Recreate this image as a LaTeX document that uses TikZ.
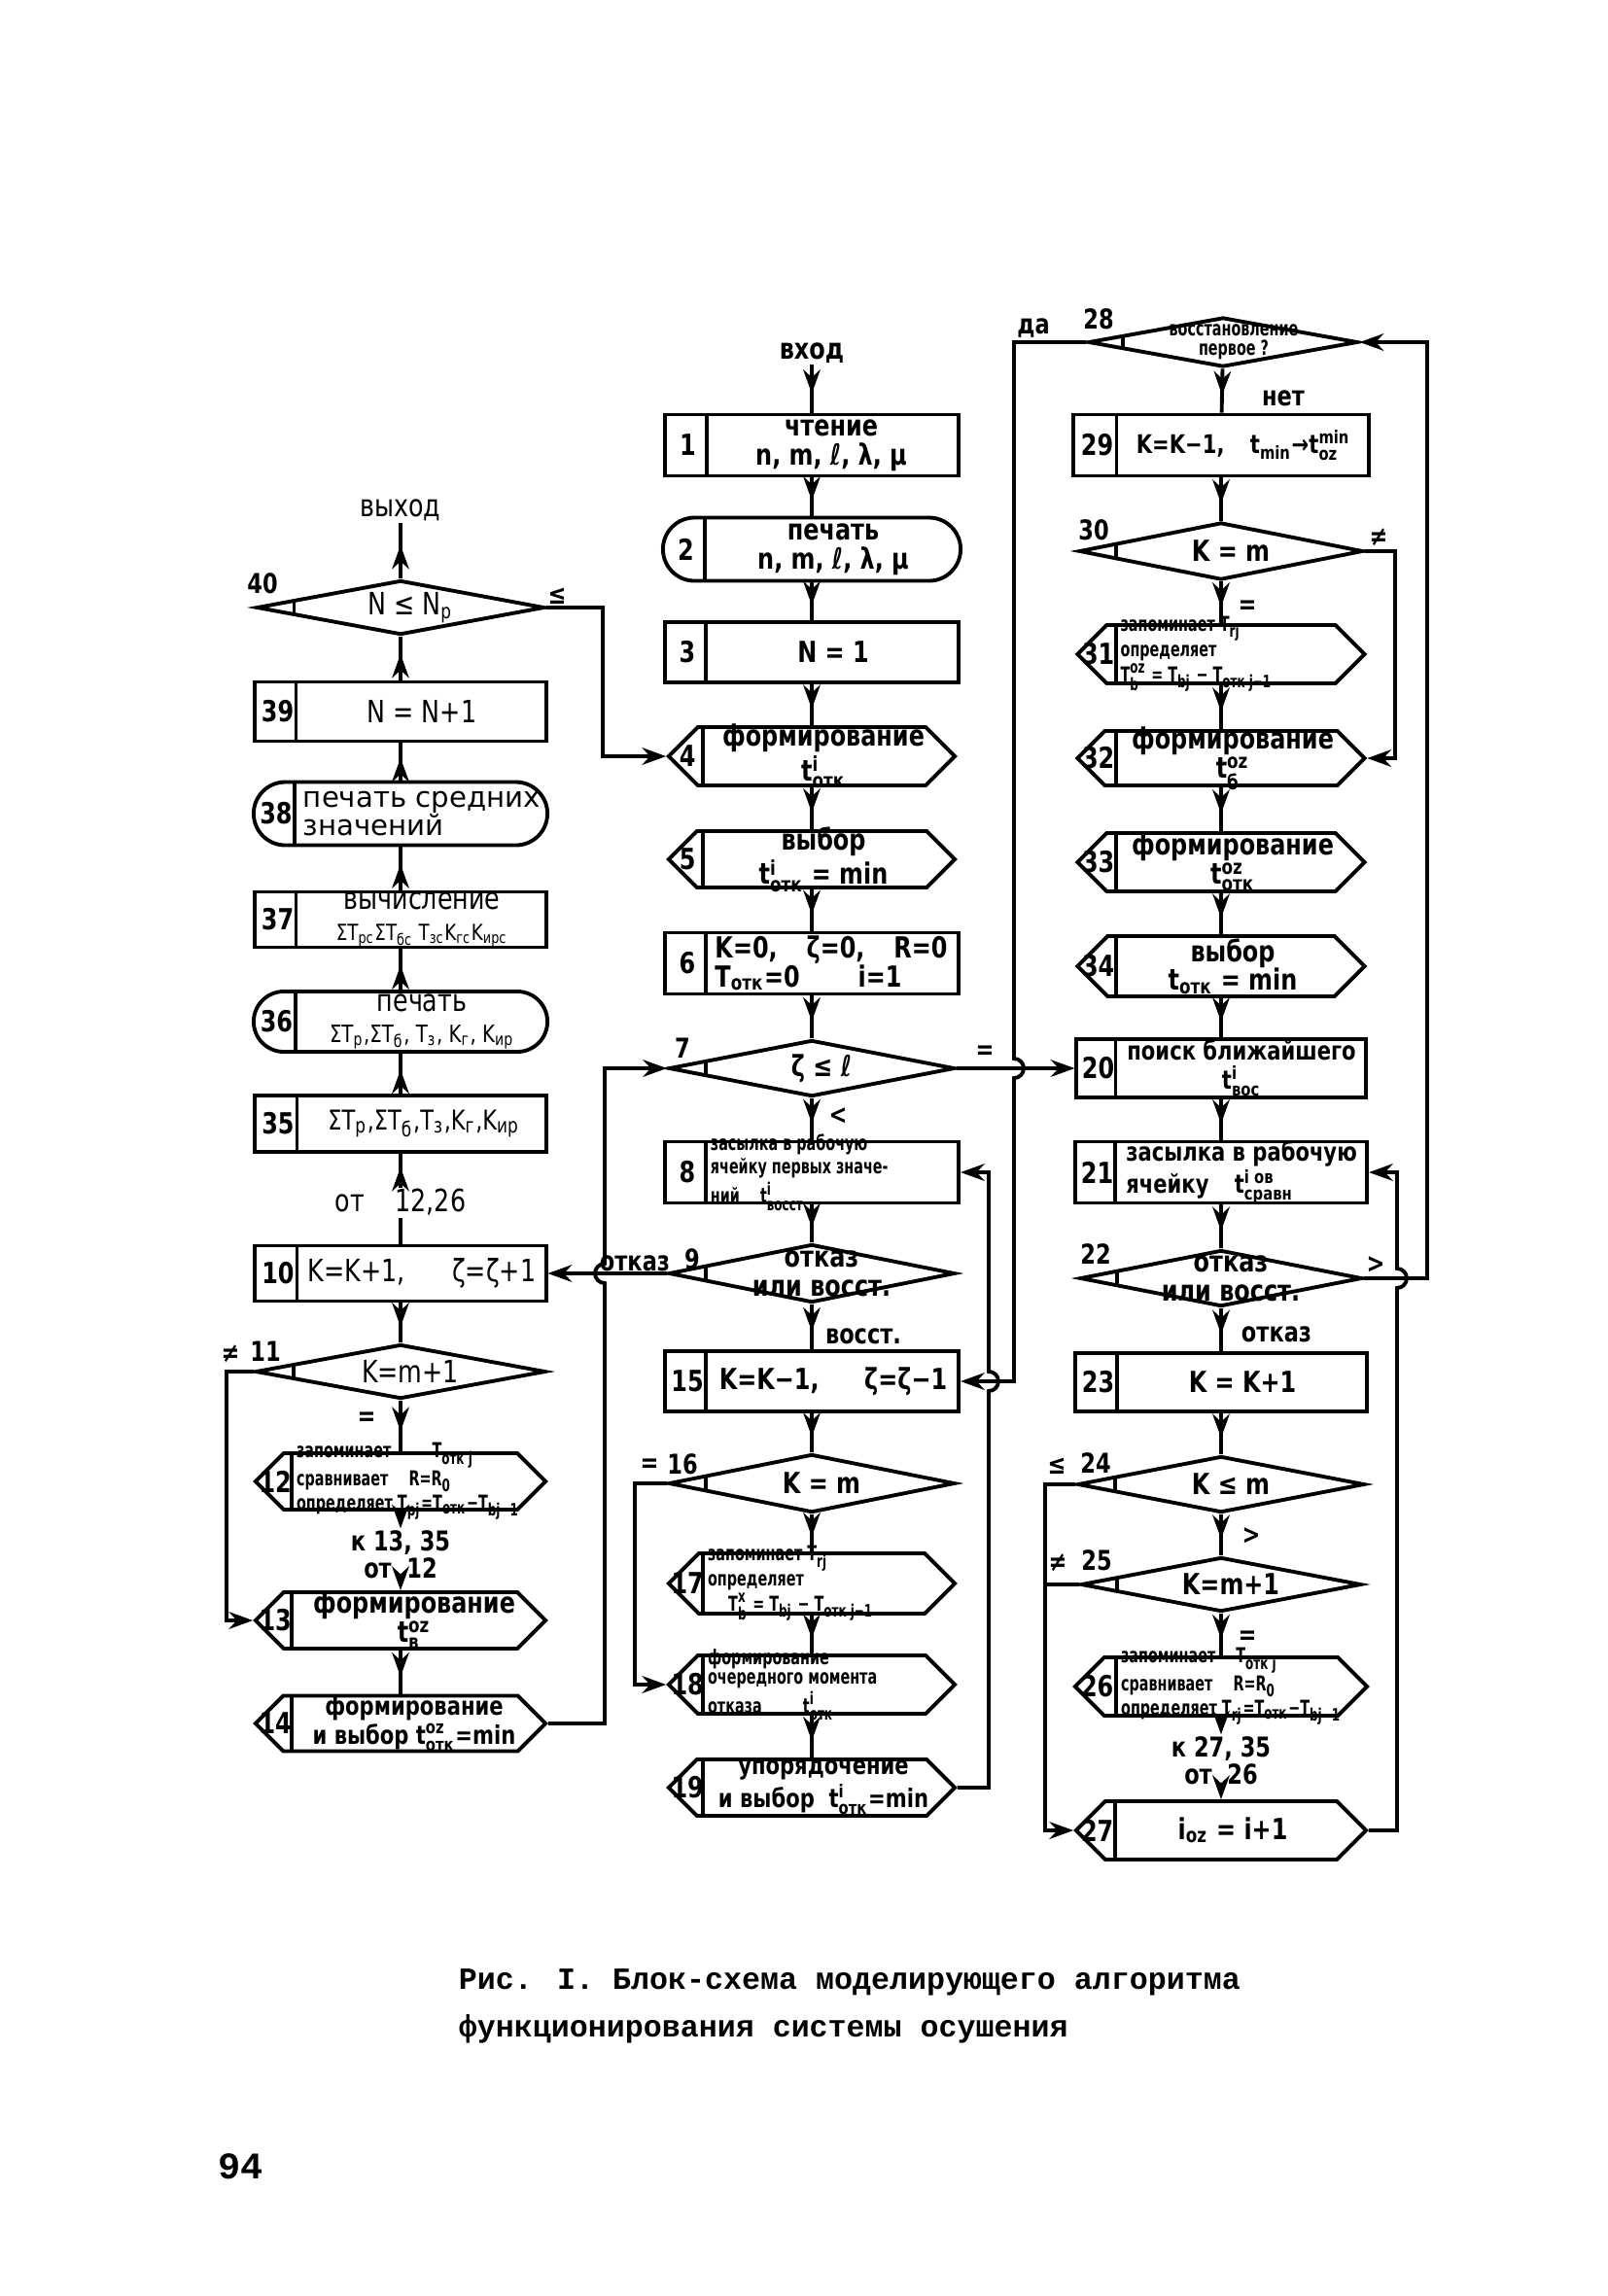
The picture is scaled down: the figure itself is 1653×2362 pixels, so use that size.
\documentclass[tikz,border=0pt]{standalone}
\usepackage{amsmath}
\usepackage{fontspec}
\setmainfont{DejaVu Sans}
\newfontfamily\narrowfont[FakeStretch=0.8]{DejaVu Sans}
\newfontfamily\condfont[FakeStretch=0.68]{DejaVu Sans}
\newfontfamily\capfont{Liberation Mono}
\usetikzlibrary{calc,shapes.geometric,shapes.misc,shapes.symbols,arrows.meta,decorations.markings}
\tikzset{
  proc/.style={draw, rectangle, inner sep=0pt, minimum width=3.02cm, minimum height=0.62cm},
  prep/.style={draw, signal, signal to=west and east, signal pointer angle=90, inner sep=0pt, minimum width=2.94cm, minimum height=0.6cm},
  cond/.style={draw, diamond, inner sep=0pt, minimum width=2.94cm, minimum height=0.58cm},
  disp/.style={draw, rounded rectangle, inner sep=0pt, minimum width=3.06cm, minimum height=0.65cm},
  card/.style={draw, chamfered rectangle, chamfered rectangle corners=north east, chamfered rectangle xsep=0.42cm, chamfered rectangle ysep=0.33cm, inner sep=0pt, minimum width=3.02cm, minimum height=0.63cm},
  txt/.style={font=\narrowfont\bfseries\fontsize{8.5}{8.5}\selectfont, align=center, inner sep=0pt},
  midtxt/.style={font=\narrowfont\bfseries\fontsize{7.5}{8.5}\selectfont, align=center, inner sep=0pt},
  smalltxt/.style={font=\condfont\bfseries\fontsize{6}{5.8}\selectfont, align=left, inner sep=0pt, anchor=west, xshift=0.03cm},
  ltxt/.style={font=\narrowfont\fontsize{9}{9}\selectfont, align=center, inner sep=0pt},
  numtxt/.style={font=\narrowfont\bfseries\fontsize{8.5}{9}\selectfont, inner sep=0pt},
  lbl/.style={font=\narrowfont\bfseries\fontsize{8}{8}\selectfont, inner sep=0pt},
  midarrow/.style={postaction={decorate}, decoration={markings, mark=at position 0.6 with {\arrow{Stealth[length=7pt,width=5pt]}}}},
  conn/.style={-{Stealth[length=7pt,width=5pt]}},
}
\def\sub#1#2{#1$_{\text{#2}}$}
\def\subsup#1#2#3{#1$^{\text{#2}}_{\text{#3}}$}
\def\cell[#1](#2)#3{\coordinate (#2d) at ([xshift=#1*1cm]#2.west);
  \draw (#2d |- #2.north) -- (#2d |- #2.south);
  \node[numtxt] (#2n) at ([xshift=#1*0.5cm+0.03cm]#2.west) {#3};}
\def\dcell(#1){\draw ($(#1.west)!0.27!(#1.north)$) -- ($(#1.west)!0.27!(#1.south)$);}

\begin{document}
\begin{tikzpicture}[x=0.01cm, y=-0.01cm, line width=1.1pt]
	\useasboundingbox (0,0) rectangle (1653,2362);
	\fill[white] (0,0) rectangle (1653,2362);

	%%%%% MIDDLE COLUMN %%%%%
	\node[txt] (in) at (835,363) {вход};

	\node[card] (b1) at (835,458) {};
	\cell[0.45](b1){1}
	\node[txt] (t1) at ([xshift=0.2cm]b1.center) {чтение\\n, m, ℓ, λ, μ};

	\node[disp] (b2) at (835,565) {};
	\cell[0.45](b2){2}
	\node[txt] (t2) at ([xshift=0.22cm]b2.center) {печать\\n, m, ℓ, λ, μ};

	\node[proc] (b3) at (835,671) {};
	\cell[0.44](b3){3}
	\node[txt] (t3) at ([xshift=0.22cm]b3.center) {N = 1};

	\node[prep] (b4) at (835,778) {};
	\cell[0.38](b4){4}
	\node[txt] (t4) at ([xshift=0.12cm]b4.center) {формирование\\\subsup{t}{i}{отк}};

	\node[prep, minimum height=0.58cm] (b5) at (835,884) {};
	\cell[0.38](b5){5}
	\node[txt] (t5) at ([xshift=0.12cm]b5.center) {выбор\\\subsup{t}{i}{отк} = min};

	\node[proc, minimum height=0.63cm] (b6) at (835,991) {};
	\cell[0.44](b6){6}
	\node[txt, align=left] (t6) at ([xshift=0.2cm]b6.center) {K=0,\quad ζ=0,\quad R=0\\\sub{T}{отк}=0\qquad i=1};

	\node[cond] (d7) at (835,1099) {};
	\dcell(d7)
	\node[txt] (t7) at ([xshift=0.1cm]d7.center) {ζ ≤ ℓ};
	\node[lbl] (n7) at (702,1078) {7};
	\node[lbl] (e7) at (1013,1083) {=};
	\node[lbl] (s7) at (862,1148) {<};

	\node[proc, minimum height=0.63cm] (b8) at (835,1206) {};
	\cell[0.44](b8){8}
	\node[smalltxt] (t8) at (b8d |- b8.center) {засылка в рабочую\\ячейку первых значе-\\ний\quad \subsup{t}{i}{восст}};

	\node[cond, minimum height=0.6cm] (d9) at (835,1310) {};
	\dcell(d9)
	\node[txt] (t9) at ([xshift=0.1cm]d9.center) {отказ\\или восст.};
	\node[lbl] (n9) at (712,1295) {9};
	\node[lbl] (w9) at (653,1300) {отказ};
	\node[lbl] (s9) at (888,1375) {восст.};

	\node[proc] (b15) at (835,1421) {};
	\cell[0.44](b15){15}
	\node[txt] (t15) at ([xshift=0.22cm]b15.center) {K=K−1,\quad\; ζ=ζ−1};

	\node[cond, minimum height=0.6cm] (d16) at (835,1526) {};
	\dcell(d16)
	\node[txt] (t16) at ([xshift=0.1cm]d16.center) {K = m};
	\node[lbl] (n16) at (702,1506) {16};
	\node[lbl] (w16) at (668,1508) {=};

	\node[prep, minimum height=0.62cm] (b17) at (835,1629) {};
	\cell[0.38](b17){17}
	\node[smalltxt] (t17) at (b17d |- b17.center) {запоминает \sub{T}{rj}\\определяет\\\quad\subsup{T}{x}{b} = \sub{T}{bj} − \sub{T}{отк j−1}};

	\node[prep] (b18) at (835,1733) {};
	\cell[0.38](b18){18}
	\node[smalltxt] (t18) at (b18d |- b18.center) {формирование\\очередного момента\\отказа\qquad \subsup{t}{i}{отк}};

	\node[prep, minimum height=0.58cm] (b19) at (835,1839) {};
	\cell[0.38](b19){19}
	\node[midtxt] (t19) at ([xshift=0.12cm]b19.center) {упорядочение\\и выбор\; \subsup{t}{i}{отк}=min};

	%%%%% LEFT COLUMN %%%%%
	\node[ltxt] (out) at (412,525) {выход};

	\node[cond, minimum width=2.96cm, minimum height=0.56cm] (d40) at (412,625) {};
	\dcell(d40)
	\node[ltxt] (t40) at ([xshift=0.1cm]d40.center) {N ≤ \sub{N}{р}};
	\node[lbl] (n40) at (270,600) {40};
	\node[lbl] (e40) at (573,613) {≤};

	\node[proc, minimum width=2.99cm, minimum height=0.61cm] (b39) at (412,732) {};
	\cell[0.44](b39){39}
	\node[ltxt] (t39) at ([xshift=0.22cm]b39.center) {N = N+1};

	\node[disp, minimum width=3.02cm] (b38) at (412,837) {};
	\cell[0.44](b38){38}
	\node[ltxt, align=left, anchor=west, font=\fontsize{8.3}{8.5}\selectfont] (t38) at (310,837) {печать средних\\значений};

	\node[proc, minimum width=2.99cm, minimum height=0.57cm] (b37) at (412,946) {};
	\cell[0.44](b37){37}
	\node[ltxt] (t37) at ([xshift=0.22cm]b37.center) {вычисление\\{\fontsize{6.5}{6.5}\selectfont Σ\sub{T}{рс}Σ\sub{T}{бс} \sub{T}{зс}\sub{K}{гс}\sub{K}{ирс}}};

	\node[disp, minimum width=3.02cm, minimum height=0.62cm] (b36) at (412,1051) {};
	\cell[0.45](b36){36}
	\node[ltxt] (t36) at ([xshift=0.22cm]b36.center) {печать\\{\fontsize{7}{7}\selectfont Σ\sub{T}{р},Σ\sub{T}{б}, \sub{T}{з}, \sub{K}{г}, \sub{K}{ир}}};

	\node[proc, minimum width=2.99cm, minimum height=0.58cm] (b35) at (412,1156) {};
	\cell[0.45](b35){35}
	\node[ltxt, font=\narrowfont\fontsize{8}{8}\selectfont] (t35) at ([xshift=0.24cm]b35.center) {Σ\sub{T}{р},Σ\sub{T}{б},\sub{T}{з},\sub{K}{г},\sub{K}{ир}};

	\node[ltxt] (o35) at (412,1237) {от\quad 12,26};

	\node[proc, minimum width=2.99cm, minimum height=0.57cm] (b10) at (412,1310) {};
	\cell[0.45](b10){10}
	\node[ltxt] (t10) at ([xshift=0.22cm]b10.center) {K=K+1,\quad\; ζ=ζ+1};

	\node[cond, minimum width=2.98cm, minimum height=0.56cm] (d11) at (412,1411) {};
	\dcell(d11)
	\node[ltxt] (t11) at ([xshift=0.1cm]d11.center) {K=m+1};
	\node[lbl] (n11) at (273,1390) {11};
	\node[lbl] (w11) at (237,1393) {≠};
	\node[lbl] (s11) at (377,1460) {=};

	\node[prep, minimum width=2.98cm, minimum height=0.58cm] (b12) at (412,1524) {};
	\cell[0.4](b12){12}
	\node[smalltxt] (t12) at (b12d |- b12.center) {запоминает\qquad \sub{T}{отк j}\\сравнивает\quad R=\sub{R}{0}\\определяет \sub{T}{pj}=\sub{T}{отк}−\sub{T}{bj−1}};

	\node[lbl, align=center] (k12) at (412,1599) {к 13, 35\\от\; 12};

	\node[prep, minimum width=2.98cm, minimum height=0.58cm] (b13) at (412,1667) {};
	\cell[0.4](b13){13}
	\node[txt] (t13) at ([xshift=0.14cm]b13.center) {формирование\\\subsup{t}{oz}{в}};

	\node[prep, minimum width=2.98cm, minimum height=0.57cm] (b14) at (412,1773) {};
	\cell[0.4](b14){14}
	\node[midtxt] (t14) at ([xshift=0.14cm]b14.center) {формирование\\и выбор \subsup{t}{oz}{отк}=min};

	%%%%% RIGHT COLUMN %%%%%
	\node[cond, minimum width=2.77cm, minimum height=0.51cm] (d28) at (1258,352) {};
	\dcell(d28)
	\node[smalltxt, align=center, anchor=center] (t28) at ([xshift=0.08cm]d28.center) {восстановление\\первое ?};
	\node[lbl] (n28) at (1130,328) {28};
	\node[lbl] (w28) at (1063,338) {да};
	\node[lbl] (s28) at (1320,410) {нет};

	\node[proc, minimum width=3.03cm, minimum height=0.63cm] (b29) at (1256,458) {};
	\cell[0.46](b29){29}
	\node[midtxt] (t29) at ([xshift=0.23cm]b29.center) {K=K−1,\quad \sub{t}{min}→\subsup{t}{min}{oz}};

	\node[cond, minimum width=2.92cm, minimum height=0.59cm] (d30) at (1256,567) {};
	\dcell(d30)
	\node[txt] (t30) at ([xshift=0.1cm]d30.center) {K = m};
	\node[lbl] (n30) at (1125,545) {30};
	\node[lbl] (e30) at (1418,553) {≠};
	\node[lbl] (s30) at (1283,625) {=};

	\node[prep, minimum width=2.95cm] (b31) at (1256,673) {};
	\cell[0.42](b31){31}
	\node[smalltxt] (t31) at (b31d |- b31.center) {запоминает \sub{T}{rj}\\определяет\\\subsup{T}{oz}{b} = \sub{T}{bj} − \sub{T}{отк j−1}};

	\node[prep, minimum width=2.95cm, minimum height=0.56cm] (b32) at (1256,780) {};
	\cell[0.42](b32){32}
	\node[txt] (t32) at ([xshift=0.12cm]b32.center) {формирование\\\subsup{t}{oz}{б}};

	\node[prep, minimum width=2.95cm] (b33) at (1256,887) {};
	\cell[0.42](b33){33}
	\node[txt] (t33) at ([xshift=0.12cm]b33.center) {формирование\\\subsup{t}{oz}{отк}};

	\node[prep, minimum width=2.95cm, minimum height=0.62cm] (b34) at (1256,994) {};
	\cell[0.42](b34){34}
	\node[txt] (t34) at ([xshift=0.12cm]b34.center) {выбор\\\sub{t}{отк} = min};

	\node[proc, minimum width=2.97cm, minimum height=0.6cm] (b20) at (1256,1099) {};
	\cell[0.42](b20){20}
	\node[midtxt] (t20) at ([xshift=0.21cm]b20.center) {поиск ближайшего\\\subsup{t}{i}{вос}};

	\node[proc, minimum width=3cm, minimum height=0.63cm] (b21) at (1256,1206) {};
	\cell[0.43](b21){21}
	\node[midtxt, align=left] (t21) at ([xshift=0.21cm]b21.center) {засылка в рабочую\\ячейку\quad \subsup{t}{i ов}{сравн}};

	\node[cond, minimum width=2.9cm, minimum height=0.58cm] (d22) at (1256,1315) {};
	\dcell(d22)
	\node[txt] (t22) at ([xshift=0.1cm]d22.center) {отказ\\или восст.};
	\node[lbl] (n22) at (1127,1290) {22};
	\node[lbl] (e22) at (1415,1301) {>};
	\node[lbl] (s22) at (1313,1373) {отказ};

	\node[proc, minimum width=3cm, minimum height=0.6cm] (b23) at (1256,1422) {};
	\cell[0.45](b23){23}
	\node[txt] (t23) at ([xshift=0.22cm]b23.center) {K = K+1};

	\node[cond, minimum width=2.95cm, minimum height=0.58cm] (d24) at (1256,1527) {};
	\dcell(d24)
	\node[txt] (t24) at ([xshift=0.1cm]d24.center) {K ≤ m};
	\node[lbl] (n24) at (1127,1505) {24};
	\node[lbl] (w24) at (1087,1508) {≤};
	\node[lbl] (s24) at (1287,1580) {>};

	\node[cond, minimum width=2.88cm, minimum height=0.56cm] (d25) at (1256,1630) {};
	\dcell(d25)
	\node[txt] (t25) at ([xshift=0.1cm]d25.center) {K=m+1};
	\node[lbl] (n25) at (1128,1605) {25};
	\node[lbl] (w25) at (1088,1608) {≠};
	\node[lbl] (s25) at (1283,1685) {=};

	\node[prep, minimum width=3cm] (b26) at (1256,1735) {};
	\cell[0.45](b26){26}
	\node[smalltxt] (t26) at (b26d |- b26.center) {запоминает\quad \sub{T}{отк j}\\сравнивает\quad R=\sub{R}{0}\\определяет \sub{T}{rj}=\sub{T}{отк}−\sub{T}{bj−1}};

	\node[lbl, align=center] (k26) at (1256,1811) {к 27, 35\\от\; 26};

	\node[prep, minimum width=2.98cm] (b27) at (1256,1883) {};
	\cell[0.43](b27){27}
	\node[txt] (t27) at ([xshift=0.12cm]b27.center) {\sub{i}{oz} = i+1};

	%%%%% CONNECTORS %%%%%
	\draw[midarrow] (in) -- (b1);
	\foreach \a/\b in {b1/b2, b2/b3, b3/b4, b4/b5, b5/b6, b6/d7, d7/b8, b8/d9, d9/b15, b15/d16, d16/b17, b17/b18, b18/b19}
		\draw[midarrow] (\a) -- (\b);
	\foreach \a/\b in {b10/d11, d11/b12, b13/b14, o35/b35, b35/b36, b36/b37, b37/b38, b38/b39, b39/d40, d40/out}
		\draw[midarrow] (\a) -- (\b);
	\foreach \a/\b in {d28/b29, b29/d30, d30/b31, b31/b32, b32/b33, b33/b34, b34/b20, b20/b21, b21/d22, d22/b23, b23/d24, d24/d25, d25/b26}
		\draw[midarrow] (\a) -- (\b);
	\draw (b10) -- (o35);
	\draw[conn] (b12) -- (k12);
	\draw[conn] (k12) -- (b13);
	\draw[conn] (b26) -- (k26);
	\draw[conn] (k26) -- (b27);

	\draw[conn] (d40.east) -- (620,625) |- (b4.west);
	\draw[conn] (b14.east) -- (622,1773) -- (622,1320) arc[start angle=270, end angle=90, radius=0.1cm] |- (d7.west);
	\draw[conn] (d9.west) -- (b10.east);
	\draw[conn] (d11.west) -- (233,1411) |- (b13.west);
	\draw[conn] (d16.west) -- (653,1526) |- (b18.west);
	\draw[conn] (b19.east) -- (1017,1839) -- (1017,1431) arc[start angle=-90, end angle=90, radius=0.1cm] |- (b8.east);
	\draw[conn] (d28.west) -- (1043,352) -- (1043,1089) arc[start angle=90, end angle=-90, radius=0.1cm] |- (b15.east);
	\draw[conn] (d7.east) -- (b20.west);
	\draw[conn] (d30.east) -- (1435,567) |- (b32.east);
	\draw[conn] (d24.west) -- (1075,1527) |- (b27.west);
	\draw (d25.west) -- (1075,1630);
	\draw[conn] (b27.east) -- (1437,1883) -- (1437,1325) arc[start angle=-90, end angle=90, radius=0.1cm] |- (b21.east);
	\draw[conn] (d22.east) -- (1468,1315) |- (d28.east);

	%%%%% CAPTION %%%%%
	\node[font=\capfont\bfseries\fontsize{9}{14}\selectfont, align=left, anchor=west, inner sep=0pt] (cap) at (470,2064) {Рис. I. Блок-схема моделирующего алгоритма\\функционирования системы осушения};
	\node[font=\capfont\bfseries\fontsize{11}{11}\selectfont, inner sep=0pt] (pg) at (248,2229) {94};
\end{tikzpicture}
\end{document}
